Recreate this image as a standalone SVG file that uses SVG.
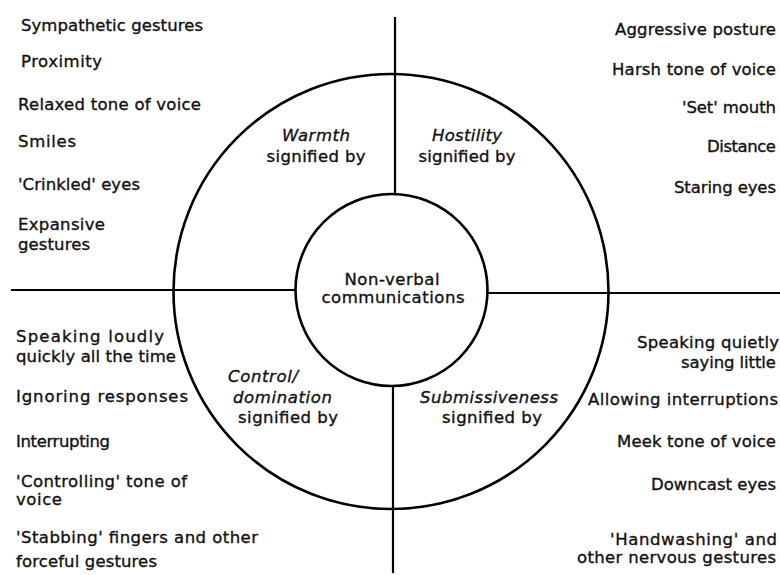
<svg xmlns="http://www.w3.org/2000/svg" width="780" height="575" viewBox="0 0 780 575">
<style>
  text { font-family: "DejaVu Sans", "Liberation Sans", sans-serif; font-size: 16.5px; fill: #111; stroke: #111; stroke-width: 0.35; }
  .it { font-style: italic; }
  .r { text-anchor: end; }
  .m { text-anchor: middle; }
  .ring { fill: none; stroke: #000; stroke-width: 2.6; }
  .ln { stroke: #000; stroke-width: 2.2; fill: none; }
</style>
<rect width="780" height="575" fill="#fff"/>
<g id="connectors">
  <line class="ln" x1="395" y1="17" x2="395" y2="194"/>
  <line class="ln" x1="393" y1="386" x2="393" y2="573"/>
  <line class="ln" x1="11" y1="290" x2="295" y2="290"/>
  <line class="ln" x1="487" y1="293" x2="780" y2="293"/>
</g>
<g id="outer-ring">
  <circle class="ring" cx="391" cy="291.5" r="217.5"/>
</g>
<g id="center">
  <circle class="ring" cx="391.5" cy="290" r="96"/>
  <text class="m" x="392" y="285" textLength="95" lengthAdjust="spacing">Non-verbal</text>
  <text class="m" x="393" y="303" textLength="143" lengthAdjust="spacing">communications</text>
</g>
<g id="warmth">
  <text class="it m" x="316" y="141" textLength="68" lengthAdjust="spacing">Warmth</text>
  <text class="m" x="316" y="162" textLength="99" lengthAdjust="spacing">signified by</text>
</g>
<g id="hostility">
  <text class="it m" x="467" y="141" textLength="70" lengthAdjust="spacing">Hostility</text>
  <text class="m" x="467" y="162" textLength="97" lengthAdjust="spacing">signified by</text>
</g>
<g id="control">
  <text class="it" x="228" y="382" textLength="70" lengthAdjust="spacing">Control/</text>
  <text class="it" x="233" y="403" textLength="99" lengthAdjust="spacing">domination</text>
  <text x="238" y="423" textLength="100" lengthAdjust="spacing">signified by</text>
</g>
<g id="submissiveness">
  <text class="it m" x="489" y="403" textLength="138" lengthAdjust="spacing">Submissiveness</text>
  <text class="m" x="492" y="423" textLength="100" lengthAdjust="spacing">signified by</text>
</g>
<g id="warmth-list">
  <text x="21" y="31" textLength="182" lengthAdjust="spacing">Sympathetic gestures</text>
  <text x="21" y="67" textLength="81" lengthAdjust="spacing">Proximity</text>
  <text x="18" y="110" textLength="183" lengthAdjust="spacing">Relaxed tone of voice</text>
  <text x="18" y="147" textLength="58" lengthAdjust="spacing">Smiles</text>
  <text x="18" y="190" textLength="122" lengthAdjust="spacing">'Crinkled' eyes</text>
  <text x="18" y="230" textLength="87" lengthAdjust="spacing">Expansive</text>
  <text x="18" y="250" textLength="72" lengthAdjust="spacing">gestures</text>
</g>
<g id="hostility-list">
  <text class="r" x="776" y="35" textLength="161" lengthAdjust="spacing">Aggressive posture</text>
  <text class="r" x="776" y="75" textLength="164" lengthAdjust="spacing">Harsh tone of voice</text>
  <text class="r" x="776" y="113" textLength="94" lengthAdjust="spacing">'Set' mouth</text>
  <text class="r" x="776" y="152" textLength="69" lengthAdjust="spacing">Distance</text>
  <text class="r" x="776" y="193" textLength="102" lengthAdjust="spacing">Staring eyes</text>
</g>
<g id="control-list">
  <text x="16" y="342" textLength="148" lengthAdjust="spacing">Speaking loudly</text>
  <text x="16" y="362" textLength="160" lengthAdjust="spacing">quickly all the time</text>
  <text x="16" y="402" textLength="172" lengthAdjust="spacing">Ignoring responses</text>
  <text x="16" y="447" textLength="94" lengthAdjust="spacing">Interrupting</text>
  <text x="16" y="487" textLength="171" lengthAdjust="spacing">'Controlling' tone of</text>
  <text x="16" y="505" textLength="46" lengthAdjust="spacing">voice</text>
  <text x="16" y="543" textLength="242" lengthAdjust="spacing">'Stabbing' fingers and other</text>
  <text x="16" y="567" textLength="141" lengthAdjust="spacing">forceful gestures</text>
</g>
<g id="submissiveness-list">
  <text class="r" x="779" y="348" textLength="142" lengthAdjust="spacing">Speaking quietly</text>
  <text class="r" x="776" y="368" textLength="95" lengthAdjust="spacing">saying little</text>
  <text class="r" x="778" y="405" textLength="190" lengthAdjust="spacing">Allowing interruptions</text>
  <text class="r" x="776" y="447" textLength="159" lengthAdjust="spacing">Meek tone of voice</text>
  <text class="r" x="776" y="490" textLength="125" lengthAdjust="spacing">Downcast eyes</text>
  <text class="r" x="777" y="545" textLength="167" lengthAdjust="spacing">'Handwashing' and</text>
  <text class="r" x="776" y="563" textLength="199" lengthAdjust="spacing">other nervous gestures</text>
</g>
</svg>
